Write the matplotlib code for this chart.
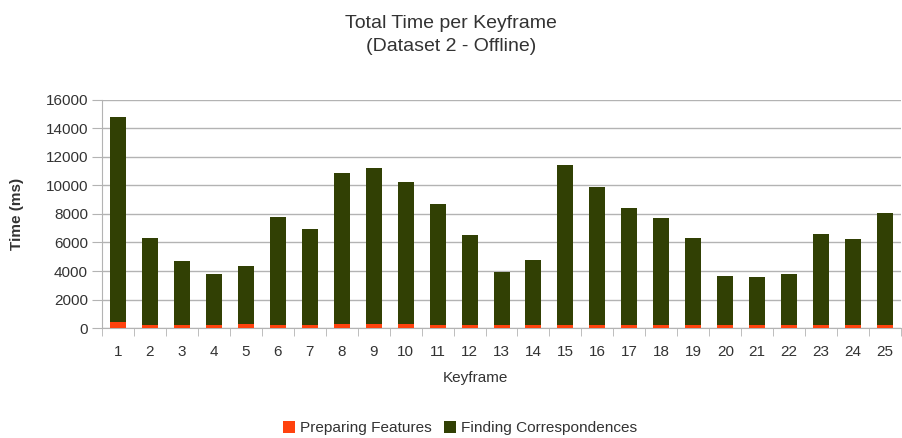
import numpy as np
import matplotlib.pyplot as plt
from matplotlib.ticker import FixedLocator, NullFormatter

plt.rcParams['font.family'] = ['Liberation Sans', 'DejaVu Sans']

keyframes = [str(i) for i in range(1, 26)]
preparing = [400, 230, 230, 230, 280, 230, 230, 250, 250, 250, 230, 230, 230,
             230, 230, 230, 230, 230, 230, 230, 230, 230, 230, 230, 230]
totals = [14800, 6280, 4730, 3770, 4360, 7800, 6980, 10850, 11220, 10230,
          8690, 6490, 3910, 4800, 11420, 9900, 8450, 7710, 6300, 3630,
          3610, 3800, 6580, 6230, 8080]
finding = [t - p for t, p in zip(totals, preparing)]

red = '#ff420e'
green = '#314004'
text_color = '#333333'

fig = plt.figure(figsize=(9.02, 4.38), dpi=100)
ax = fig.add_axes([0.113, 0.251, 0.886, 0.521])

x = np.arange(len(keyframes))
ax.bar(x, preparing, width=0.5, color=red, label='Preparing Features', zorder=3)
ax.bar(x, finding, width=0.5, bottom=preparing, color=green,
       label='Finding Correspondences', zorder=3)

ax.set_xlim(-0.5, len(keyframes) - 0.5)
ax.set_ylim(0, 16000)
ax.set_yticks(range(0, 16001, 2000))
ax.yaxis.grid(True, color='#b3b3b3', linewidth=1, zorder=0)

ax.set_xticks(x)
ax.set_xticklabels(keyframes)
ax.tick_params(axis='x', which='major', length=0, pad=12)
ax.xaxis.set_minor_locator(FixedLocator(np.arange(-0.5, len(keyframes), 1)))
ax.xaxis.set_minor_formatter(NullFormatter())
ax.tick_params(axis='x', which='minor', length=6, color='#b3b3b3')
ax.tick_params(axis='y', length=7, color='#b3b3b3', pad=3)
ax.tick_params(labelsize=11, labelcolor=text_color)

for side in ['top', 'right']:
    ax.spines[side].set_visible(False)
for side in ['left', 'bottom']:
    ax.spines[side].set_color('#b3b3b3')

ax.set_ylabel('Time (ms)', fontsize=11, fontweight='bold', color=text_color)
ax.yaxis.set_label_coords(-0.098, 0.5)
ax.set_xlabel('Keyframe', fontsize=11, color=text_color)
ax.xaxis.set_label_coords(0.467, -0.19)

fig.text(0.5, 0.965, 'Total Time per Keyframe\n(Dataset 2 - Offline)',
         ha='center', va='top', fontsize=14, color=text_color, linespacing=1.45)

fig.legend(loc='center', bbox_to_anchor=(0.51, 0.022), ncol=2, frameon=False,
           fontsize=11.1, handlelength=0.75, handleheight=0.75, handletextpad=0.35,
           columnspacing=0.8, labelcolor=text_color)

fig.savefig('out.png', dpi=100)
